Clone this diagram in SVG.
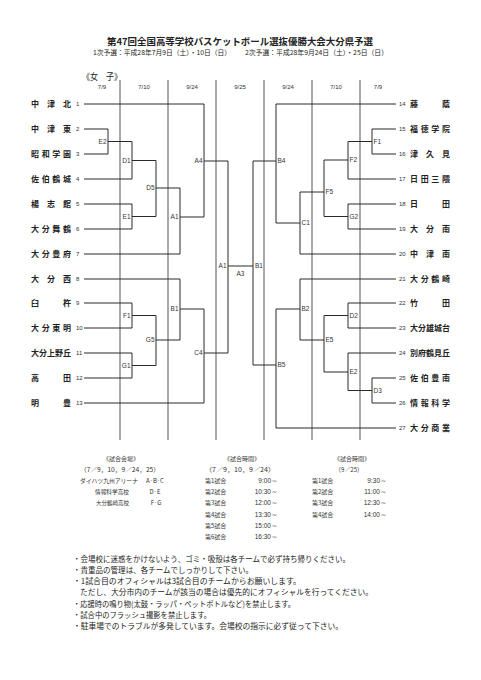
<svg xmlns="http://www.w3.org/2000/svg" width="481" height="680" viewBox="0 0 481 680">
<style>
.bg{fill:#fff}
.ln{fill:none;stroke:#2b2b2b;stroke-width:1}
.sep{stroke:#555;stroke-width:1}
.jp{font-family:"Noto Sans CJK JP","Noto Sans CJK SC",sans-serif;fill:#222}
.nm{font-family:"Noto Sans CJK JP","Noto Sans CJK SC",sans-serif;font-size:8px;font-weight:bold;fill:#222}
.no{font-family:"Liberation Sans",Arial,sans-serif;font-size:6px;fill:#333}
.lb{font-family:"Liberation Sans",Arial,sans-serif;font-size:6.5px;fill:#333}
.dt{font-family:"Liberation Sans",Arial,sans-serif;font-size:6px;fill:#333;text-anchor:middle}
.tb{font-family:"Noto Sans CJK JP","Noto Sans CJK SC",sans-serif;font-size:6px;fill:#333}
.tn{font-family:"Liberation Sans",Arial,sans-serif;font-size:6.5px;fill:#333;text-anchor:end}
.nt{font-family:"Noto Sans CJK JP","Noto Sans CJK SC",sans-serif;font-size:7.5px;fill:#222}
</style>
<rect class="bg" x="0" y="0" width="481" height="680"/>

<g id="header">
<text class="jp" x="240" y="44.5" font-size="9.5" font-weight="bold" text-anchor="middle" textLength="266" lengthAdjust="spacingAndGlyphs">第47回全国高等学校バスケットボール選抜優勝大会大分県予選</text>
<text class="jp" x="93" y="54.5" font-size="6.8" textLength="138" lengthAdjust="spacingAndGlyphs">1次予選：平成28年7月9日（土）・10日（日）</text>
<text class="jp" x="245" y="54.5" font-size="6.8" textLength="143" lengthAdjust="spacingAndGlyphs">2次予選：平成28年9月24日（土）・25日（日）</text>
<text class="jp" x="82" y="79.5" font-size="9" textLength="40" lengthAdjust="spacingAndGlyphs">《女　子》</text>
</g>

<g id="dates">
<text class="dt" x="102" y="89">7/9</text>
<text class="dt" x="144" y="89">7/10</text>
<text class="dt" x="192" y="89">9/24</text>
<text class="dt" x="240" y="89">9/25</text>
<text class="dt" x="288" y="89">9/24</text>
<text class="dt" x="336" y="89">7/10</text>
<text class="dt" x="378" y="89">7/9</text>
</g>

<g id="separators">
<line class="sep" x1="120" y1="80" x2="120" y2="440"/>
<line class="sep" x1="168" y1="80" x2="168" y2="440"/>
<line class="sep" x1="216" y1="80" x2="216" y2="440"/>
<line class="sep" x1="264" y1="80" x2="264" y2="440"/>
<line class="sep" x1="312" y1="80" x2="312" y2="440"/>
<line class="sep" x1="360" y1="80" x2="360" y2="440"/>
</g>

<g id="connectors">
<path class="ln" d="M84 104H204M84 129H108M84 154H108M84 179H132M84 204H132M84 229H132M84 254H180M84 279H180M84 303H132M84 328H132M84 353H132M84 378H132M84 403H204"/>
<path class="ln" d="M108 129V154M108 141.5H132M132 141.5V179M132 160.5H156M132 204V229M132 216.5H156M156 160.5V216.5M156 188H180M180 188V254M180 217H204M204 104V217M204 161H228"/>
<path class="ln" d="M132 303V328M132 315.5H156M132 353V378M132 365.5H156M156 315.5V365.5M156 340H180M180 279V340M180 309H204M204 309V403M204 353H228M228 161V353M228 266H253"/>
<path class="ln" d="M276 104H396M372 129H396M372 154H396M348 179H396M348 204H396M348 229H396M300 254H396M300 279H396M348 303H396M348 328H396M348 353H396M372 378H396M372 403H396M276 428H396"/>
<path class="ln" d="M372 129V154M372 141.5H348M348 141.5V179M348 160H324M348 204V229M348 216.5H324M324 160V216.5M324 192H300M300 192V254M300 223H276M276 104V223M276 161H253M253 161V365"/>
<path class="ln" d="M348 303V328M348 315.5H324M372 378V403M372 390.5H348M348 353V390.5M348 372H324M324 315.5V372M324 340H300M300 279V340M300 309H276M276 309V428M276 365H253"/>
</g>

<g id="match-labels">
<g id="m-E2-left"><text class="lb" x="106.5" y="143.8" text-anchor="end">E2</text></g>
<g id="m-D1"><text class="lb" x="130.5" y="162.8" text-anchor="end">D1</text></g>
<g id="m-E1"><text class="lb" x="130.5" y="218.8" text-anchor="end">E1</text></g>
<g id="m-D5"><text class="lb" x="154.5" y="190.3" text-anchor="end">D5</text></g>
<g id="m-A1-left"><text class="lb" x="178.5" y="219.3" text-anchor="end">A1</text></g>
<g id="m-A4"><text class="lb" x="202.5" y="163.3" text-anchor="end">A4</text></g>
<g id="m-F1-left"><text class="lb" x="130.5" y="317.8" text-anchor="end">F1</text></g>
<g id="m-G1"><text class="lb" x="130.5" y="367.8" text-anchor="end">G1</text></g>
<g id="m-G5"><text class="lb" x="154.5" y="342.3" text-anchor="end">G5</text></g>
<g id="m-B1-left"><text class="lb" x="178.5" y="311.3" text-anchor="end">B1</text></g>
<g id="m-C4"><text class="lb" x="202.5" y="355.3" text-anchor="end">C4</text></g>
<g id="m-A1-center"><text class="lb" x="226.5" y="268.3" text-anchor="end">A1</text></g>
<g id="m-A3"><text class="lb" x="240.5" y="275.5" text-anchor="middle">A3</text></g>
<g id="m-B1-center"><text class="lb" x="255" y="268.3">B1</text></g>
<g id="m-B4"><text class="lb" x="277.5" y="163.3">B4</text></g>
<g id="m-C1"><text class="lb" x="301.5" y="225.3">C1</text></g>
<g id="m-F5"><text class="lb" x="325.5" y="194.3">F5</text></g>
<g id="m-F2"><text class="lb" x="349.5" y="162.3">F2</text></g>
<g id="m-F1-right"><text class="lb" x="373.5" y="143.8">F1</text></g>
<g id="m-G2"><text class="lb" x="349.5" y="218.8">G2</text></g>
<g id="m-B2"><text class="lb" x="301.5" y="311.3">B2</text></g>
<g id="m-E5"><text class="lb" x="325.5" y="342.3">E5</text></g>
<g id="m-D2"><text class="lb" x="349.5" y="317.8">D2</text></g>
<g id="m-E2-right"><text class="lb" x="349.5" y="374.3">E2</text></g>
<g id="m-D3"><text class="lb" x="373.5" y="392.8">D3</text></g>
<g id="m-B5"><text class="lb" x="277.5" y="367.3">B5</text></g>
</g>

<g id="teams-left">
<g id="t1"><text class="nm" x="31 47 63" y="107">中津北</text><text class="no" x="76" y="106.2">1</text></g>
<g id="t2"><text class="nm" x="31 47 63" y="132">中津東</text><text class="no" x="76" y="131.2">2</text></g>
<g id="t3"><text class="nm" x="31 41.7 52.3 63" y="157">昭和学園</text><text class="no" x="76" y="156.2">3</text></g>
<g id="t4"><text class="nm" x="31 41.7 52.3 63" y="182">佐伯鶴城</text><text class="no" x="76" y="181.2">4</text></g>
<g id="t5"><text class="nm" x="31 47 63" y="207">楊志館</text><text class="no" x="76" y="206.2">5</text></g>
<g id="t6"><text class="nm" x="31 41.7 52.3 63" y="232">大分舞鶴</text><text class="no" x="76" y="231.2">6</text></g>
<g id="t7"><text class="nm" x="31 41.7 52.3 63" y="257">大分豊府</text><text class="no" x="76" y="256.2">7</text></g>
<g id="t8"><text class="nm" x="31 47 63" y="282">大分西</text><text class="no" x="76" y="281.2">8</text></g>
<g id="t9"><text class="nm" x="31 63" y="306">臼杵</text><text class="no" x="76" y="305.2">9</text></g>
<g id="t10"><text class="nm" x="31 41.7 52.3 63" y="331">大分東明</text><text class="no" x="76" y="330.2">10</text></g>
<g id="t11"><text class="nm" x="31 39 47 55 63" y="356">大分上野丘</text><text class="no" x="76" y="355.2">11</text></g>
<g id="t12"><text class="nm" x="31 63" y="381">高田</text><text class="no" x="76" y="380.2">12</text></g>
<g id="t13"><text class="nm" x="31 63" y="406">明豊</text><text class="no" x="76" y="405.2">13</text></g>
</g>

<g id="teams-right">
<g id="t14"><text class="no" x="399" y="106.2">14</text><text class="nm" x="410 442" y="107">藤蔭</text></g>
<g id="t15"><text class="no" x="399" y="131.2">15</text><text class="nm" x="410 420.7 431.3 442" y="132">福徳学院</text></g>
<g id="t16"><text class="no" x="399" y="156.2">16</text><text class="nm" x="410 426 442" y="157">津久見</text></g>
<g id="t17"><text class="no" x="399" y="181.2">17</text><text class="nm" x="410 420.7 431.3 442" y="182">日田三隈</text></g>
<g id="t18"><text class="no" x="399" y="206.2">18</text><text class="nm" x="410 442" y="207">日田</text></g>
<g id="t19"><text class="no" x="399" y="231.2">19</text><text class="nm" x="410 426 442" y="232">大分南</text></g>
<g id="t20"><text class="no" x="399" y="256.2">20</text><text class="nm" x="410 426 442" y="257">中津南</text></g>
<g id="t21"><text class="no" x="399" y="281.2">21</text><text class="nm" x="410 420.7 431.3 442" y="282">大分鶴崎</text></g>
<g id="t22"><text class="no" x="399" y="305.2">22</text><text class="nm" x="410 442" y="306">竹田</text></g>
<g id="t23"><text class="no" x="399" y="330.2">23</text><text class="nm" x="410 418 426 434 442" y="331">大分雄城台</text></g>
<g id="t24"><text class="no" x="399" y="355.2">24</text><text class="nm" x="410 418 426 434 442" y="356">別府鶴見丘</text></g>
<g id="t25"><text class="no" x="399" y="380.2">25</text><text class="nm" x="410 420.7 431.3 442" y="381">佐伯豊南</text></g>
<g id="t26"><text class="no" x="399" y="405.2">26</text><text class="nm" x="410 420.7 431.3 442" y="406">情報科学</text></g>
<g id="t27"><text class="no" x="399" y="430.2">27</text><text class="nm" x="410 420.7 431.3 442" y="431">大分商業</text></g>
</g>

<g id="venues">
<text class="tb" x="121" y="461.2" text-anchor="middle" font-size="6.5">《試合会場》</text>
<text class="tb" x="80" y="472.2" font-size="6.5" textLength="80" lengthAdjust="spacingAndGlyphs">（7／9，10，9／24，25）</text>
<text class="tb" x="80" y="483" textLength="58" lengthAdjust="spacingAndGlyphs">ダイハツ九州アリーナ</text>
<text class="tb" x="155" y="483" text-anchor="middle">A·B·C</text>
<text class="tb" x="95" y="494" textLength="34" lengthAdjust="spacingAndGlyphs">情報科学高校</text>
<text class="tb" x="155" y="494" text-anchor="middle">D·E</text>
<text class="tb" x="96" y="505" textLength="33" lengthAdjust="spacingAndGlyphs">大分鶴崎高校</text>
<text class="tb" x="156" y="505" text-anchor="middle">F·G</text>
</g>

<g id="times-1">
<text class="tb" x="242" y="461.2" text-anchor="middle" font-size="6.5">《試合時間》</text>
<text class="tb" x="205" y="472.2" font-size="6.5" textLength="70" lengthAdjust="spacingAndGlyphs">（7／9，10，9／24）</text>
<text class="tb" x="205" y="482.5">第1試合</text><text class="tn" x="278" y="482.5">9:00～</text>
<text class="tb" x="205" y="494">第2試合</text><text class="tn" x="278" y="494">10:30～</text>
<text class="tb" x="205" y="505.2">第3試合</text><text class="tn" x="278" y="505.2">12:00～</text>
<text class="tb" x="205" y="516.5">第4試合</text><text class="tn" x="278" y="516.5">13:30～</text>
<text class="tb" x="205" y="527.8">第5試合</text><text class="tn" x="278" y="527.8">15:00～</text>
<text class="tb" x="205" y="539">第6試合</text><text class="tn" x="278" y="539">16:30～</text>
</g>

<g id="times-2">
<text class="tb" x="352" y="461.2" text-anchor="middle" font-size="6.5">《試合時間》</text>
<text class="tb" x="349" y="472.2" text-anchor="middle" font-size="6.5">（9／25）</text>
<text class="tb" x="312" y="482.5">第1試合</text><text class="tn" x="387" y="482.5">9:30～</text>
<text class="tb" x="312" y="494">第2試合</text><text class="tn" x="387" y="494">11:00～</text>
<text class="tb" x="312" y="505.2">第3試合</text><text class="tn" x="387" y="505.2">12:30～</text>
<text class="tb" x="312" y="516.5">第4試合</text><text class="tn" x="387" y="516.5">14:00～</text>
</g>

<g id="notes">
<text class="nt" x="73" y="561.8" textLength="277" lengthAdjust="spacingAndGlyphs">・会場校に迷惑をかけないよう、ゴミ・吸殻は各チームで必ず持ち帰りください。</text>
<text class="nt" x="73" y="573" textLength="180" lengthAdjust="spacingAndGlyphs">・貴重品の管理は、各チームでしっかりして下さい。</text>
<text class="nt" x="73" y="584.2" textLength="228" lengthAdjust="spacingAndGlyphs">・1試合目のオフィシャルは3試合目のチームからお願いします。</text>
<text class="nt" x="80" y="595.4" textLength="293" lengthAdjust="spacingAndGlyphs">ただし、大分市内のチームが該当の場合は優先的にオフィシャルを行ってください。</text>
<text class="nt" x="73" y="606.6" textLength="222" lengthAdjust="spacingAndGlyphs">・応援時の鳴り物(太鼓・ラッパ・ペットボトルなど)を禁止します。</text>
<text class="nt" x="73" y="617.8" textLength="138" lengthAdjust="spacingAndGlyphs">・試合中のフラッシュ撮影を禁止します。</text>
<text class="nt" x="73" y="629" textLength="270" lengthAdjust="spacingAndGlyphs">・駐車場でのトラブルが多発しています。会場校の指示に必ず従って下さい。</text>
</g>
</svg>
